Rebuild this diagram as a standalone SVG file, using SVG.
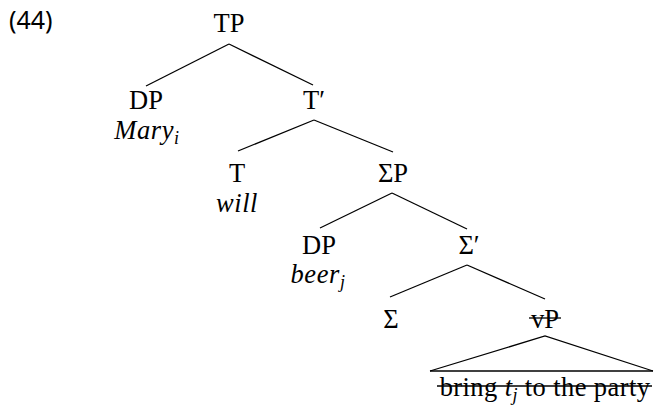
<svg xmlns="http://www.w3.org/2000/svg" width="655" height="405" viewBox="0 0 655 405">
<style>
.lab{font-family:"Liberation Serif","Times New Roman",serif;font-size:26.5px;fill:#000;text-anchor:middle}
.it{font-family:"Liberation Serif","Times New Roman",serif;font-style:italic;font-size:26.5px;fill:#000;text-anchor:middle;letter-spacing:0.6px}
.num{font-family:"Noto Sans","DejaVu Sans",sans-serif;font-size:25px;fill:#000}
.edge{stroke:#000;stroke-width:1.3;fill:none}
.strike{stroke:#000;stroke-width:1.3}
</style>
<rect width="655" height="405" fill="#fff"/>
<text class="num" x="9" y="29">(44)</text>
<g id="connectors">
<line class="edge" x1="229" y1="44" x2="146" y2="86"/>
<line class="edge" x1="229" y1="44" x2="313" y2="85"/>
<line class="edge" x1="314" y1="120" x2="238" y2="151"/>
<line class="edge" x1="314" y1="120" x2="393" y2="152"/>
<line class="edge" x1="392" y1="193" x2="320" y2="228"/>
<line class="edge" x1="392" y1="193" x2="467" y2="229"/>
<line class="edge" x1="467" y1="265" x2="390" y2="297"/>
<line class="edge" x1="467" y1="265" x2="545" y2="299"/>
<polyline class="edge" points="430,371 545,336 653,371"/>
<line class="edge" x1="430" y1="371" x2="653" y2="371"/>
</g>
<g id="n-TP"><text class="lab" x="229" y="32">TP</text></g>
<g id="n-DP1"><text class="lab" x="146" y="109">DP</text><text class="it" x="147" y="139">Mary<tspan font-size="18" dy="5">i</tspan></text></g>
<g id="n-Tbar"><text class="lab" x="314" y="109">T′</text></g>
<g id="n-T"><text class="lab" x="237" y="182">T</text><text class="it" x="237" y="212">will</text></g>
<g id="n-SigmaP"><text class="lab" x="393" y="182">ΣP</text></g>
<g id="n-DP2"><text class="lab" x="319" y="254">DP</text><text class="it" x="318" y="283">beer<tspan font-size="18" dy="5">j</tspan></text></g>
<g id="n-Sigmabar"><text class="lab" x="469" y="254">Σ′</text></g>
<g id="n-Sigma"><text class="lab" x="391" y="328">Σ</text></g>
<g id="n-vP"><text class="lab" x="545" y="328">vP</text><line class="strike" x1="529" y1="318" x2="561" y2="318"/></g>
<g id="n-vP-content"><text class="lab" x="545" y="396" letter-spacing="0.4">bring <tspan font-style="italic">t</tspan><tspan font-style="italic" font-size="18" dy="5">j</tspan><tspan dy="-5"> to the party</tspan></text><line class="strike" x1="437" y1="386" x2="652" y2="386"/></g>
</svg>
